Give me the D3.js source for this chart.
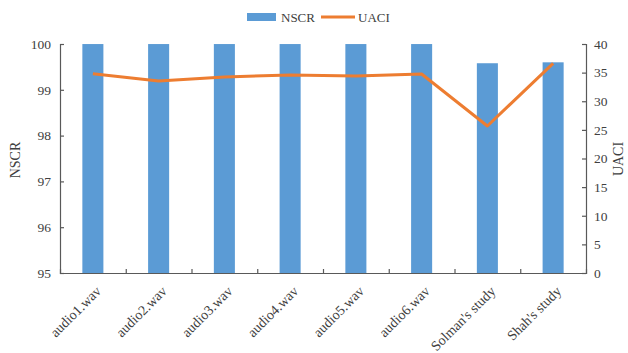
<!DOCTYPE html>
<html>
<head>
<meta charset="utf-8">
<script src="https://cdn.jsdelivr.net/npm/d3@7"></script>
<style>
  html, body { margin: 0; padding: 0; background: #fff; }
  svg { display: block; font-family: "Liberation Serif", "Times New Roman", serif; }
</style>
</head>
<body>
<svg id="chart" width="628" height="353"></svg>
<script>
// Categories and series
const categories = ["audio1.wav", "audio2.wav", "audio3.wav", "audio4.wav",
                    "audio5.wav", "audio6.wav", "Solman's study", "Shah's study"];
const nscrValues = [99.999, 99.999, 99.999, 99.999, 99.999, 99.999, 99.58, 99.60];
const uaciValues = [34.81, 33.54, 34.24, 34.59, 34.41, 34.76, 25.68, 36.63];
const nscrTicks = [95, 96, 97, 98, 99, 100];
const uaciTicks = [0, 5, 10, 15, 20, 25, 30, 35, 40];

const svg = d3.select("#chart");
const margin = { left: 60, right: 42, top: 44, bottom: 80 };
const W = 628, H = 353;
const x0 = margin.left, x1 = W - margin.right;   // 60 .. 586
const y0 = H - margin.bottom, y1 = margin.top;   // 273 .. 44

const blue = "#5B9BD5", orange = "#ED7D31", axisCol = "#595959", textCol = "#404040";

const x = d3.scaleBand().domain(categories).range([x0, x1]).paddingInner(0.68).paddingOuter(0.34);
const yL = d3.scaleLinear().domain([95, 100]).range([y0, y1]);
const yR = d3.scaleLinear().domain([0, 40]).range([y0, y1]);

// Bars (NSCR)
svg.append("g").selectAll("rect").data(categories).join("rect")
  .attr("x", d => x(d))
  .attr("width", x.bandwidth())
  .attr("y", (d, i) => yL(nscrValues[i]))
  .attr("height", (d, i) => yL(95) - yL(nscrValues[i]))
  .attr("fill", blue);

// Line (UACI)
const line = d3.line()
  .x((d, i) => x(categories[i]) + x.bandwidth() / 2)
  .y(d => yR(d));
svg.append("path").datum(uaciValues)
  .attr("d", line)
  .attr("fill", "none")
  .attr("stroke", orange)
  .attr("stroke-width", 3)
  .attr("stroke-linejoin", "round");

// Left axis
const axL = svg.append("g").attr("transform", `translate(${x0},0)`)
  .call(d3.axisLeft(yL).tickValues(nscrTicks).tickSize(-4).tickPadding(9).tickFormat(d3.format("d")));
// Right axis
const axR = svg.append("g").attr("transform", `translate(${x1},0)`)
  .call(d3.axisRight(yR).tickValues(uaciTicks).tickSize(-4).tickPadding(8).tickFormat(d3.format("d")));
// Bottom axis: ticks between categories, pointing up
const bScale = d3.scaleLinear().domain([0, categories.length]).range([x0, x1]);
const axB = svg.append("g").attr("transform", `translate(0,${y0})`)
  .call(d3.axisBottom(bScale).tickValues(d3.range(0, categories.length + 1)).tickSize(-4).tickFormat(""));

[axL, axR, axB].forEach(g => {
  g.select(".domain").attr("stroke", axisCol).attr("stroke-width", 1.2);
  g.selectAll(".tick line").attr("stroke", axisCol).attr("stroke-width", 1.2);
  g.selectAll(".tick text").attr("fill", textCol).style("font-size", "13.5px")
    .style("font-family", "'Liberation Serif', 'Times New Roman', serif");
});
axB.selectAll(".tick").filter((d, i) => i === 0 || i === categories.length).select("line").remove();

// Category labels, rotated
svg.append("g").selectAll("text").data(categories).join("text")
  .attr("transform", d => `translate(${x(d) + x.bandwidth() / 2 + 9},${y0 + 19}) rotate(-45)`)
  .attr("text-anchor", "end")
  .attr("fill", textCol)
  .style("font-size", "14px")
  .text(d => d);

// Axis titles
svg.append("text")
  .attr("transform", "translate(20,160) rotate(-90)")
  .attr("text-anchor", "middle")
  .attr("fill", textCol)
  .style("font-size", "14px")
  .text("NSCR");
svg.append("text")
  .attr("transform", "translate(623,159) rotate(-90)")
  .attr("text-anchor", "middle")
  .attr("fill", textCol)
  .style("font-size", "14px")
  .text("UACI");

// Legend
const lg = svg.append("g");
lg.append("rect").attr("x", 247).attr("y", 13).attr("width", 29).attr("height", 8).attr("fill", blue);
lg.append("text").attr("x", 281).attr("y", 21.5).attr("fill", textCol).style("font-size", "13px").text("NSCR");
lg.append("line").attr("x1", 321).attr("x2", 355).attr("y1", 17).attr("y2", 17)
  .attr("stroke", orange).attr("stroke-width", 3);
lg.append("text").attr("x", 358).attr("y", 21.5).attr("fill", textCol).style("font-size", "13px").text("UACI");
</script>
</body>
</html>
